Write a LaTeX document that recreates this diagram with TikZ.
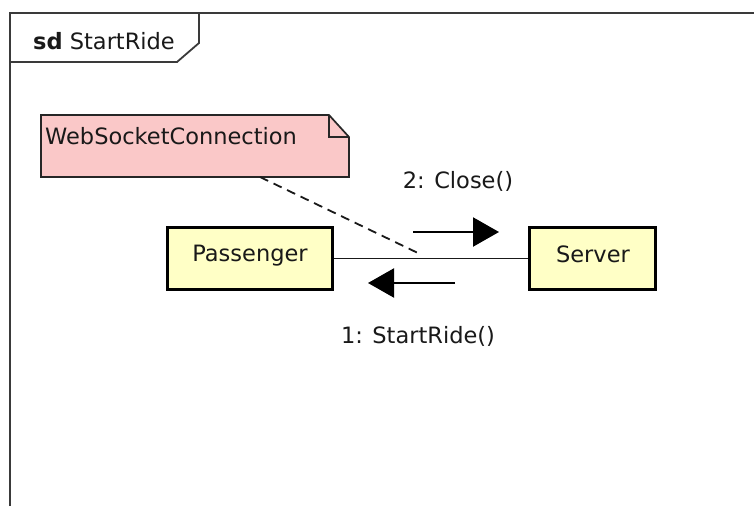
\documentclass[tikz,border=0pt]{standalone}
\usepackage{fontspec}
\setmainfont{DejaVu Sans}
\usetikzlibrary{arrows.meta}
\definecolor{notefill}{HTML}{FAC8C8}
\definecolor{objfill}{HTML}{FFFFC6}
\definecolor{framegray}{HTML}{3A3A3A}
\tikzset{
  lbl/.style={font=\fontsize{22.5}{26}\selectfont, text=black!90, inner sep=0pt},
  objbox/.style={draw=black, line width=3.8pt, fill=objfill, minimum height=62pt, inner sep=0pt},
  msg/.style={line width=2.2pt, -{Triangle[length=26pt,width=29pt]}},
}
\begin{document}
\begin{tikzpicture}[x=1pt,y=-1pt]
\useasboundingbox (0,0) rectangle (754,506);
\fill[white] (0,0) rectangle (754,506);

% diagram frame and its name tab
\draw[framegray, line width=2.4pt] (10,506) -- (10,13) -- (754,13);
\draw[framegray, line width=1.8pt] (10,62) -- (177,62) -- (199,43) -- (199,13);
\node[lbl, anchor=base west] (title) at (33,49) {\textbf{sd} StartRide};

% note with folded corner
\filldraw[fill=notefill, draw=black!85, line width=1.7pt]
  (41,115) -- (329,115) -- (349,137) -- (349,177) -- (41,177) -- cycle;
\draw[black!85, line width=1.7pt] (329,115) -- (329,137) -- (349,137);
\coordinate (noteanchor) at (260,177);
\node[lbl, anchor=base west] (notetext) at (45,144) {WebSocketConnection};

% objects
\node[objbox, minimum width=165pt] (passenger) at (250,258.5) {};
\node[lbl, anchor=base] at (250,261) {Passenger};
\node[objbox, minimum width=126pt] (server) at (592.5,258.5) {};
\node[lbl, anchor=base] at (593,262) {Server};

% link between the objects
\draw[black!90, line width=1.8pt] (passenger.east) -- (server.west);
\coordinate (linkpoint) at (420,254);
\draw[black!90, line width=1.8pt, dash pattern=on 9pt off 6pt] (noteanchor) -- (linkpoint);

% messages
\coordinate (m2s) at (413,232);
\coordinate (m2e) at (499,232);
\draw[msg] (m2s) -- (m2e);
\node[lbl] (m2) at (458,181) {2: Close()};

\coordinate (m1s) at (455,283);
\coordinate (m1e) at (368,283);
\draw[msg] (m1s) -- (m1e);
\node[lbl] (m1) at (418,336) {1: StartRide()};
\end{tikzpicture}
\end{document}
